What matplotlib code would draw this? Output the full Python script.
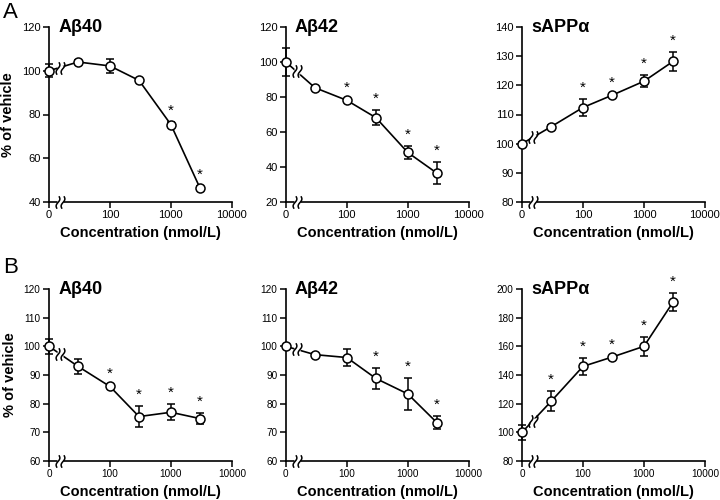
import numpy as np
import matplotlib
matplotlib.use("Agg")
import matplotlib.pyplot as plt
from matplotlib.path import Path

plt.rcParams['font.family'] = ['Liberation Sans', 'DejaVu Sans']

# concentrations (nmol/L); 0 = vehicle
conc = [0, 30, 100, 300, 1000, 3000]

# row A
a_ab40 = [100, 104, 102.2, 95.6, 75.4, 46.4]
a_ab40_err = [3, 0.8, 3.2, 0.8, 1.0, 1.0]
a_ab40_sig = [0, 0, 0, 0, 1, 1]

a_ab42 = [100, 85.3, 78.1, 68.2, 48.3, 36.5]
a_ab42_err = [8, 1.0, 1.0, 4.2, 3.6, 6.3]
a_ab42_sig = [0, 0, 1, 1, 1, 1]

a_sapp = [100, 105.8, 112.4, 116.6, 121.4, 128.2]
a_sapp_err = [0.5, 0.5, 2.8, 0.5, 2.0, 3.4]
a_sapp_sig = [0, 0, 1, 1, 1, 1]

# row B
b_ab40 = [100, 93, 86, 75.5, 77, 74.8]
b_ab40_err = [2.6, 2.5, 0.5, 3.8, 2.8, 2.0]
b_ab40_sig = [0, 0, 1, 1, 1, 1]

b_ab42 = [100, 97.1, 96.1, 88.8, 83.4, 73.4]
b_ab42_err = [0.5, 0.5, 3.0, 3.7, 5.7, 2.3]
b_ab42_sig = [0, 0, 0, 1, 1, 1]

b_sapp = [100, 121.6, 146, 152.5, 160, 190.8]
b_sapp_err = [5.3, 7.0, 6.2, 1.0, 6.5, 6.4]
b_sapp_sig = [0, 1, 1, 1, 1, 1]

xticks = [0, 100, 1000, 10000]
BREAK_X = 15


def fwd(x):
    return np.log10(np.maximum(np.asarray(x, dtype=float), 10))


def inv(y):
    return 10 ** np.asarray(y, dtype=float)


def break_marker():
    t = np.linspace(-1, 1, 25)
    verts, codes = [], []
    for dx in (-0.4, 0.4):
        xs = dx + 0.15 * t + 0.22 * np.sin(np.pi * t)
        for i, (xx, yy) in enumerate(zip(xs, t)):
            verts.append((xx, yy))
            codes.append(Path.MOVETO if i == 0 else Path.LINETO)
    return Path(verts, codes)


BRK = break_marker()


def draw_break(ax, x, y):
    ax.plot([x], [y], marker='s', ms=4.5, mfc='white', mec='none',
            clip_on=False, zorder=5)
    ax.plot([x], [y], marker=BRK, ms=9, mfc='none', mec='black', mew=1.1,
            clip_on=False, zorder=6)


def panel(ax, title, vals, errs, sig, ylim, ystep, fs_tick):
    ax.set_xscale('function', functions=(fwd, inv))
    ax.errorbar(conc, vals, yerr=errs, fmt='-o', color='black', lw=1.2,
                ms=6.5, mfc='white', mec='black', mew=1.1, capsize=3,
                elinewidth=1.1, capthick=1.1, clip_on=False, zorder=3)
    for c, v, e, s in zip(conc, vals, errs, sig):
        if s:
            ax.annotate('*', xy=(c, v + e), xytext=(0, 3),
                        textcoords='offset points', ha='center', va='bottom',
                        fontsize=11)
    ax.set_xlim(0, 10000)
    ax.set_ylim(*ylim)
    ax.set_xticks(xticks)
    ax.set_xticklabels([str(t) for t in xticks])
    ax.set_yticks(np.arange(ylim[0], ylim[1] + 1, ystep))
    ax.minorticks_off()
    for sp in ('top', 'right'):
        ax.spines[sp].set_visible(False)
    for sp in ('left', 'bottom'):
        ax.spines[sp].set_linewidth(1.2)
    ax.tick_params(direction='out', length=4, width=1.1, labelsize=fs_tick,
                   pad=2)
    ax.set_xlabel('Concentration (nmol/L)', fontsize=10.5, fontweight='bold',
                  labelpad=4)
    ax.text(0.05, 1.0, title, transform=ax.transAxes, fontsize=13,
            fontweight='bold', ha='left', va='center')
    # axis breaks: on the x axis and on the first line segment
    draw_break(ax, BREAK_X, ylim[0])
    frac = (fwd(BREAK_X) - fwd(conc[0])) / (fwd(conc[1]) - fwd(conc[0]))
    draw_break(ax, BREAK_X, vals[0] + frac * (vals[1] - vals[0]))


fig = plt.figure(figsize=(7.2, 5.0), dpi=100)
lefts = [0.068, 0.397, 0.725]
w = 0.254

row_a = [('A\u03b240', a_ab40, a_ab40_err, a_ab40_sig, (40, 120), 20),
         ('A\u03b242', a_ab42, a_ab42_err, a_ab42_sig, (20, 120), 20),
         ('sAPP\u03b1', a_sapp, a_sapp_err, a_sapp_sig, (80, 140), 10)]
row_b = [('A\u03b240', b_ab40, b_ab40_err, b_ab40_sig, (60, 120), 10),
         ('A\u03b242', b_ab42, b_ab42_err, b_ab42_sig, (60, 120), 10),
         ('sAPP\u03b1', b_sapp, b_sapp_err, b_sapp_sig, (80, 200), 20)]

for i, args in enumerate(row_a):
    ax = fig.add_axes([lefts[i], 0.596, w, 0.35])
    panel(ax, *args, fs_tick=8)
    if i == 0:
        ax.set_ylabel('% of vehicle', fontsize=10.5, fontweight='bold',
                      labelpad=5)

for i, args in enumerate(row_b):
    ax = fig.add_axes([lefts[i], 0.078, w, 0.344])
    panel(ax, *args, fs_tick=7.2)
    if i == 0:
        ax.set_ylabel('% of vehicle', fontsize=10.5, fontweight='bold',
                      labelpad=5)

fig.text(0.004, 0.975, 'A', fontsize=16, ha='left', va='center')
fig.text(0.004, 0.465, 'B', fontsize=16, ha='left', va='center')

fig.savefig('out.png', dpi=100)
